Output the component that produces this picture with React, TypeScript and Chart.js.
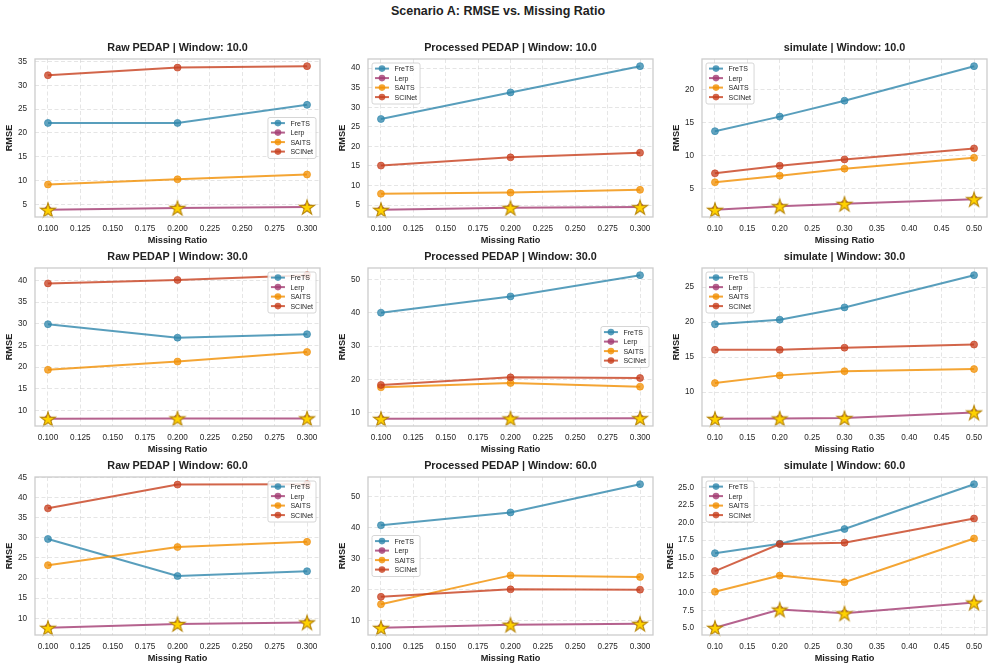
import React, { useEffect, useRef } from 'react';
import { Chart, registerables } from 'chart.js';

Chart.register(...registerables);

const FONT = "'Liberation Sans', Arial, Helvetica, sans-serif";

// ---------- data ----------
const methods = ['FreTS', 'Lerp', 'SAITS', 'SCINet'];
const colors = ['#2E86AB', '#A23B72', '#F18F01', '#C73E1D'];

const ratiosPEDAP = [0.1, 0.2, 0.3];
const ratiosSim = [0.1, 0.2, 0.3, 0.5];

const xTicksPEDAP = [0.1, 0.125, 0.15, 0.175, 0.2, 0.225, 0.25, 0.275, 0.3];
const xTicksSim = [0.1, 0.15, 0.2, 0.25, 0.3, 0.35, 0.4, 0.45, 0.5];

// series order: FreTS, Lerp, SAITS, SCINet
const rawW10 = [
  [22.1, 22.1, 25.9],
  [3.9, 4.3, 4.5],
  [9.2, 10.3, 11.3],
  [32.1, 33.7, 34.0],
];
const procW10 = [
  [27.0, 33.8, 40.5],
  [3.8, 4.3, 4.5],
  [7.9, 8.2, 8.9],
  [15.1, 17.2, 18.4],
];
const simW10 = [
  [13.7, 15.9, 18.3, 23.5],
  [1.85, 2.4, 2.75, 3.45],
  [6.0, 7.0, 8.05, 9.7],
  [7.35, 8.5, 9.45, 11.1],
];
const rawW30 = [
  [29.9, 26.8, 27.6],
  [8.1, 8.2, 8.2],
  [19.4, 21.3, 23.5],
  [39.3, 40.1, 41.2],
];
const procW30 = [
  [40.1, 45.0, 51.4],
  [8.1, 8.2, 8.3],
  [17.6, 18.9, 17.8],
  [18.3, 20.6, 20.4],
];
const simW30 = [
  [19.7, 20.35, 22.1, 26.7],
  [6.2, 6.25, 6.3, 7.1],
  [11.3, 12.4, 13.0, 13.3],
  [16.05, 16.05, 16.35, 16.8],
];
const rawW60 = [
  [29.7, 20.5, 21.7],
  [7.65, 8.6, 9.0],
  [23.2, 27.7, 29.0],
  [37.3, 43.2, 43.3],
];
const procW60 = [
  [40.65, 44.8, 53.9],
  [7.6, 8.6, 8.9],
  [15.2, 24.5, 24.0],
  [17.6, 20.0, 19.9],
];
const simW60 = [
  [15.65, 17.0, 19.1, 25.5],
  [5.0, 7.6, 7.07, 8.6],
  [10.15, 12.45, 11.5, 17.75],
  [13.1, 16.95, 17.15, 20.6],
];

const yTicksRawW10 = [5, 10, 15, 20, 25, 30, 35];
const yTicksProcW10 = [5, 10, 15, 20, 25, 30, 35, 40];
const yTicksSimW10 = [5, 10, 15, 20];
const yTicksRawW30 = [10, 15, 20, 25, 30, 35, 40];
const yTicksProcW30 = [10, 20, 30, 40, 50];
const yTicksSimW30 = [10, 15, 20, 25];
const yTicksRawW60 = [10, 15, 20, 25, 30, 35, 40, 45];
const yTicksProcW60 = [10, 20, 30, 40, 50];
const yTicksSimW60 = [5, 7.5, 10, 12.5, 15, 17.5, 20, 22.5, 25];

type LegendPos = 'upper left' | 'upper right' | 'center right' | 'center left';

interface PanelCfg {
  title: string;
  x: number[];
  series: number[][];
  xTicks: number[];
  xDec: number;
  yTicks: number[];
  yDec: number;
  legend: LegendPos;
}

const panels: PanelCfg[] = [
  { title: 'Raw PEDAP | Window: 10.0', x: ratiosPEDAP, series: rawW10, xTicks: xTicksPEDAP, xDec: 3, yTicks: yTicksRawW10, yDec: 0, legend: 'center right' },
  { title: 'Processed PEDAP | Window: 10.0', x: ratiosPEDAP, series: procW10, xTicks: xTicksPEDAP, xDec: 3, yTicks: yTicksProcW10, yDec: 0, legend: 'upper left' },
  { title: 'simulate | Window: 10.0', x: ratiosSim, series: simW10, xTicks: xTicksSim, xDec: 2, yTicks: yTicksSimW10, yDec: 0, legend: 'upper left' },
  { title: 'Raw PEDAP | Window: 30.0', x: ratiosPEDAP, series: rawW30, xTicks: xTicksPEDAP, xDec: 3, yTicks: yTicksRawW30, yDec: 0, legend: 'upper right' },
  { title: 'Processed PEDAP | Window: 30.0', x: ratiosPEDAP, series: procW30, xTicks: xTicksPEDAP, xDec: 3, yTicks: yTicksProcW30, yDec: 0, legend: 'center right' },
  { title: 'simulate | Window: 30.0', x: ratiosSim, series: simW30, xTicks: xTicksSim, xDec: 2, yTicks: yTicksSimW30, yDec: 0, legend: 'upper left' },
  { title: 'Raw PEDAP | Window: 60.0', x: ratiosPEDAP, series: rawW60, xTicks: xTicksPEDAP, xDec: 3, yTicks: yTicksRawW60, yDec: 0, legend: 'upper right' },
  { title: 'Processed PEDAP | Window: 60.0', x: ratiosPEDAP, series: procW60, xTicks: xTicksPEDAP, xDec: 3, yTicks: yTicksProcW60, yDec: 0, legend: 'center left' },
  { title: 'simulate | Window: 60.0', x: ratiosSim, series: simW60, xTicks: xTicksSim, xDec: 2, yTicks: yTicksSimW60, yDec: 1, legend: 'upper left' },
];

// ---------- layout ----------
const PLOT_LEFTS = [35, 368, 702];
const PLOT_TOPS = [59, 268, 477];
const PLOT_W = 288;
const PLOT_H = 158;
const TITLE_H = 22;
const X_AXIS_H = 30;
const RIGHT_PAD = 5;

function rgba(hex: string, a: number) {
  const n = parseInt(hex.slice(1), 16);
  return `rgba(${(n >> 16) & 255},${(n >> 8) & 255},${n & 255},${a})`;
}

function makeStar(R: number): HTMLCanvasElement {
  const lw = 1.1;
  const size = Math.ceil(2 * R + 2 * lw + 2);
  const c = document.createElement('canvas');
  c.width = size;
  c.height = size;
  const ctx = c.getContext('2d')!;
  const cx = size / 2;
  const cy = size / 2 + R * 0.1;
  const r = R * 0.381966;
  ctx.beginPath();
  for (let i = 0; i < 10; i++) {
    const rad = i % 2 === 0 ? R : r;
    const ang = -Math.PI / 2 + (i * Math.PI) / 5;
    const px = cx + rad * Math.cos(ang);
    const py = cy + rad * Math.sin(ang);
    if (i === 0) ctx.moveTo(px, py);
    else ctx.lineTo(px, py);
  }
  ctx.closePath();
  ctx.fillStyle = '#FFD200';
  ctx.fill();
  ctx.lineWidth = lw;
  ctx.strokeStyle = '#B8860B';
  ctx.lineJoin = 'miter';
  ctx.stroke();
  return c;
}

const framePlugin = {
  id: 'frame',
  afterDatasetsDraw(chart: any) {
    const { ctx, chartArea: a } = chart;
    ctx.save();
    ctx.strokeStyle = '#cccccc';
    ctx.lineWidth = 1.3;
    ctx.strokeRect(a.left, a.top, a.right - a.left, a.bottom - a.top);
    ctx.restore();
  },
};

const axesTitlePlugin = {
  id: 'axesTitle',
  afterDraw(chart: any, _args: any, opts: any) {
    const { ctx, chartArea: a } = chart;
    ctx.save();
    ctx.font = `bold 10.8px ${FONT}`;
    ctx.fillStyle = '#222222';
    ctx.textAlign = 'center';
    ctx.textBaseline = 'middle';
    ctx.fillText(opts.text, (a.left + a.right) / 2, a.top - 11);
    ctx.restore();
  },
};

const legendPlugin = {
  id: 'insideLegend',
  afterDraw(chart: any, _args: any, opts: any) {
    const { ctx, chartArea: a } = chart;
    const fs = 7;
    ctx.save();
    ctx.font = `${fs}px ${FONT}`;
    const textW = Math.max(...methods.map((m) => ctx.measureText(m).width));
    const pad = 3;
    const handle = 14;
    const gap = 5.5;
    const rowH = 9.5;
    const w = pad + handle + gap + textW + pad;
    const h = 4 * rowH + 3;
    const inset = 4;
    let bx = a.left + inset;
    let by = a.top + inset;
    const pos: LegendPos = opts.pos;
    if (pos === 'upper right' || pos === 'center right') bx = a.right - inset - w;
    if (pos === 'center right' || pos === 'center left') by = (a.top + a.bottom) / 2 - h / 2;

    ctx.beginPath();
    if ((ctx as any).roundRect) (ctx as any).roundRect(bx, by, w, h, 2);
    else ctx.rect(bx, by, w, h);
    ctx.fillStyle = 'rgba(255,255,255,0.85)';
    ctx.fill();
    ctx.strokeStyle = '#cccccc';
    ctx.lineWidth = 0.8;
    ctx.stroke();

    methods.forEach((m, i) => {
      const cy = by + 5.6 + i * rowH;
      const x0 = bx + pad;
      ctx.strokeStyle = rgba(colors[i], 0.8);
      ctx.lineWidth = 2;
      ctx.beginPath();
      ctx.moveTo(x0, cy);
      ctx.lineTo(x0 + handle, cy);
      ctx.stroke();
      ctx.fillStyle = rgba(colors[i], 0.8);
      ctx.beginPath();
      ctx.arc(x0 + handle / 2, cy, 3.3, 0, Math.PI * 2);
      ctx.fill();
      ctx.fillStyle = '#262626';
      ctx.textBaseline = 'middle';
      ctx.textAlign = 'left';
      ctx.fillText(m, x0 + handle + gap, cy + 0.5);
    });
    ctx.restore();
  },
};

function Panel({ cfg, left, top, yAxisW }: { cfg: PanelCfg; left: number; top: number; yAxisW: number }) {
  const ref = useRef<HTMLCanvasElement | null>(null);

  useEffect(() => {
    if (!ref.current) return;
    const star = makeStar(7.8);
    const all = cfg.series.flat();
    const dmin = Math.min(...all);
    const dmax = Math.max(...all);
    const ym = (dmax - dmin) * 0.05;
    const xmin0 = Math.min(...cfg.x);
    const xmax0 = Math.max(...cfg.x);
    const xm = (xmax0 - xmin0) * 0.05;
    // y label sits ~25.5px left of the plot (further when tick labels are wider)
    const yTitleOffset = yAxisW - (yAxisW > 35 ? 32 : 25.5);

    const datasets: any[] = methods.map((m, i) => ({
      type: 'line',
      label: m,
      data: cfg.x.map((xv, j) => ({ x: xv, y: cfg.series[i][j] })),
      borderColor: rgba(colors[i], 0.8),
      backgroundColor: rgba(colors[i], 0.8),
      borderWidth: 2,
      pointRadius: 3.5,
      pointBorderWidth: 0.8,
      pointBorderColor: rgba(colors[i], 0.8),
      pointBackgroundColor: rgba(colors[i], 0.75),
      tension: 0,
      order: 4 - i,
    }));
    datasets.push({
      type: 'line',
      label: 'best',
      data: cfg.x.map((xv, j) => ({ x: xv, y: Math.min(...cfg.series.map((s) => s[j])) })),
      showLine: false,
      pointStyle: star,
      pointRadius: 7,
      order: -1,
      clip: false,
    });

    const chart = new Chart(ref.current, {
      type: 'line',
      data: { datasets },
      options: {
        animation: false,
        responsive: true,
        maintainAspectRatio: false,
        events: [],
        layout: { padding: { left: 0, top: TITLE_H, bottom: 0, right: RIGHT_PAD } },
        plugins: {
          legend: { display: false },
          tooltip: { enabled: false },
          title: { display: false },
          axesTitle: { text: cfg.title },
          insideLegend: { pos: cfg.legend },
        } as any,
        scales: {
          x: {
            type: 'linear',
            min: xmin0 - xm,
            max: xmax0 + xm,
            afterBuildTicks: (s: any) => {
              s.ticks = cfg.xTicks.map((v) => ({ value: v }));
            },
            afterFit: (s: any) => {
              s.height = X_AXIS_H;
              s.paddingLeft = 0;
              s.paddingRight = 0;
            },
            ticks: {
              autoSkip: false,
              maxRotation: 0,
              minRotation: 0,
              padding: 7,
              color: '#262626',
              font: { family: FONT, size: 8.2 },
              callback: (v: any) => Number(v).toFixed(cfg.xDec),
            },
            grid: {
              color: 'rgba(170,170,170,0.38)',
              lineWidth: 0.8,
              drawTicks: false,
            },
            border: { display: false, dash: [4, 2.5] },
            title: {
              display: true,
              text: 'Missing Ratio',
              color: '#222222',
              font: { family: FONT, size: 9.2, weight: 'bold', lineHeight: 1.2 },
              padding: { top: 0, bottom: 1.3 },
            },
          },
          y: {
            type: 'linear',
            min: dmin - ym,
            max: dmax + ym,
            afterBuildTicks: (s: any) => {
              s.ticks = cfg.yTicks.map((v) => ({ value: v }));
            },
            afterFit: (s: any) => {
              s.width = yAxisW;
              s.paddingTop = 0;
              s.paddingBottom = 0;
            },
            ticks: {
              autoSkip: false,
              padding: 8,
              color: '#262626',
              font: { family: FONT, size: 8.2 },
              callback: (v: any) => Number(v).toFixed(cfg.yDec),
            },
            grid: {
              color: 'rgba(170,170,170,0.38)',
              lineWidth: 0.8,
              drawTicks: false,
            },
            border: { display: false, dash: [4, 2.5] },
            title: {
              display: true,
              text: 'RMSE',
              color: '#222222',
              font: { family: FONT, size: 9.2, weight: 'bold', lineHeight: 1.2 },
              padding: { top: yTitleOffset - 5.52, bottom: 0 },
            },
          },
        },
      } as any,
      plugins: [framePlugin, legendPlugin, axesTitlePlugin],
    });
    return () => chart.destroy();
  }, [cfg, yAxisW]);

  return (
    <div
      style={{
        position: 'absolute',
        left,
        top,
        width: yAxisW + PLOT_W + RIGHT_PAD,
        height: TITLE_H + PLOT_H + X_AXIS_H,
      }}
    >
      <canvas ref={ref} />
    </div>
  );
}

export default function App() {
  return (
    <div
      style={{
        position: 'absolute',
        left: 0,
        top: 0,
        width: 996,
        height: 668,
        background: '#ffffff',
        overflow: 'hidden',
        fontFamily: FONT,
      }}
    >
      <div
        style={{
          position: 'absolute',
          left: 0,
          top: 4,
          width: 996,
          textAlign: 'center',
          fontSize: 12.5,
          lineHeight: '15px',
          fontWeight: 'bold',
          color: '#222222',
        }}
      >
        Scenario A: RMSE vs. Missing Ratio
      </div>
      {panels.map((cfg, idx) => {
        const col = idx % 3;
        const row = Math.floor(idx / 3);
        const yAxisW = cfg.yDec > 0 ? 42 : 35;
        return (
          <Panel
            key={idx}
            cfg={cfg}
            yAxisW={yAxisW}
            left={PLOT_LEFTS[col] - yAxisW}
            top={PLOT_TOPS[row] - TITLE_H}
          />
        );
      })}
    </div>
  );
}
